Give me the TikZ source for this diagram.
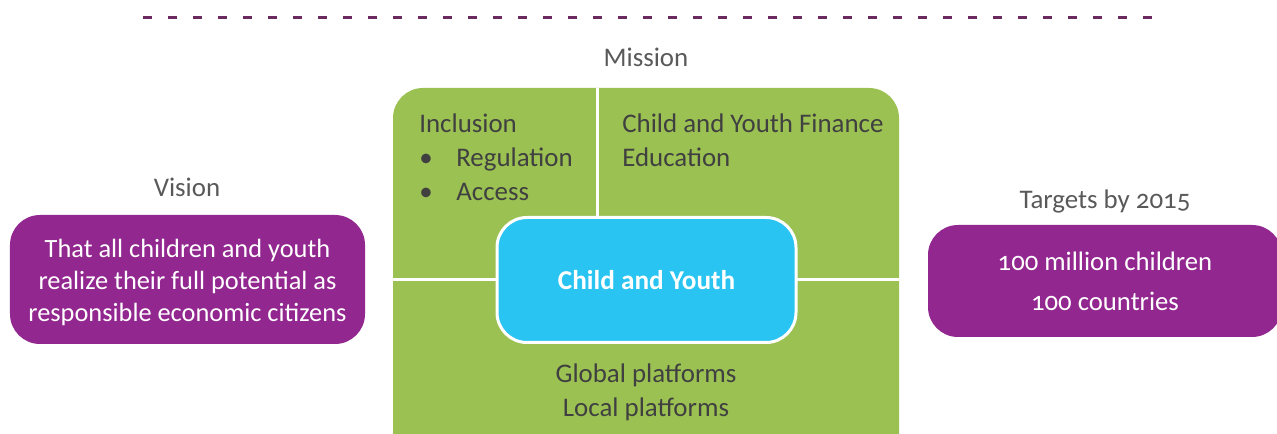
\documentclass[tikz,border=0pt]{standalone}
\usepackage{fontspec}
\setmainfont{Carlito}[Numbers=OldStyle]
\usetikzlibrary{positioning}

\definecolor{plum}{HTML}{92278F}
\definecolor{leaf}{HTML}{9BC153}
\definecolor{sky}{HTML}{29C4F1}
\definecolor{ruleplum}{HTML}{6B2A5F}
\definecolor{ink}{HTML}{595959}
\definecolor{darkink}{HTML}{404040}

\tikzset{
  heading/.style={text=ink, font=\fontsize{15.3}{18}\selectfont, inner sep=0pt, anchor=base},
  purplebox/.style={fill=plum, rounded corners=6mm, text=white, align=center, inner sep=0pt},
  plain/.style={text=darkink, font=\fontsize{15.3}{19.6}\selectfont, inner sep=0pt, align=left},
  divider/.style={white, line width=0.6mm},
}

\begin{document}
\begin{tikzpicture}[x=0.2mm, y=-0.2mm]
        \useasboundingbox (0, 0) rectangle (1277, 434);

        \draw[ruleplum, line width=0.6mm, dash pattern=on 1.8mm off 3.2mm] (143, 18) -- (1152, 18);

        % mission block
        \node[heading] (mission) at (646, 67) {Mission};
        \fill[leaf, rounded corners=6mm] (393, 88) rectangle (899, 480);
        \draw[divider] (597, 88) -- (597, 250);
        \draw[divider] (393, 280) -- (899, 280);
        \node[fill=sky, draw=white, line width=0.6mm, rounded corners=6mm, text=white,
              font=\fontsize{15.5}{19.6}\selectfont\bfseries, minimum width=59.8mm, minimum height=25mm]
              (core) at (646.5, 280) {Child and Youth};

        % last line sits on the base anchor
        \node[plain, anchor=base west] (inclusion) at (419, 201)
              {Inclusion\\\makebox[7.4mm][l]{\textbullet}Regulation\\\makebox[7.4mm][l]{\textbullet}Access};
        \node[plain, anchor=base west] (finance) at (622, 167) {Child and Youth Finance\\Education};
        \node[plain, align=center, anchor=base] (platforms) at (646, 417) {Global platforms\\Local platforms};

        % vision
        \node[heading] (visionlabel) at (187, 197) {Vision};
        \node[purplebox, minimum width=71mm, minimum height=25.8mm] (vision) at (187.5, 279.5) {};
        \node[text=white, align=center, inner sep=0pt, font=\fontsize{15}{18.4}\selectfont]
              (visiontext) at (187.5, 282.5)
              {That all children and youth\\realize their full potential as\\responsible economic citizens};

        % targets
        \node[heading] (targetslabel) at (1105, 209) {Targets by 2015};
        \node[purplebox, font=\fontsize{15.2}{22.8}\selectfont, minimum width=70.8mm, minimum height=22.4mm]
              (targets) at (1105, 281) {100 million children\\100 countries};
    \end{tikzpicture}
\end{document}
